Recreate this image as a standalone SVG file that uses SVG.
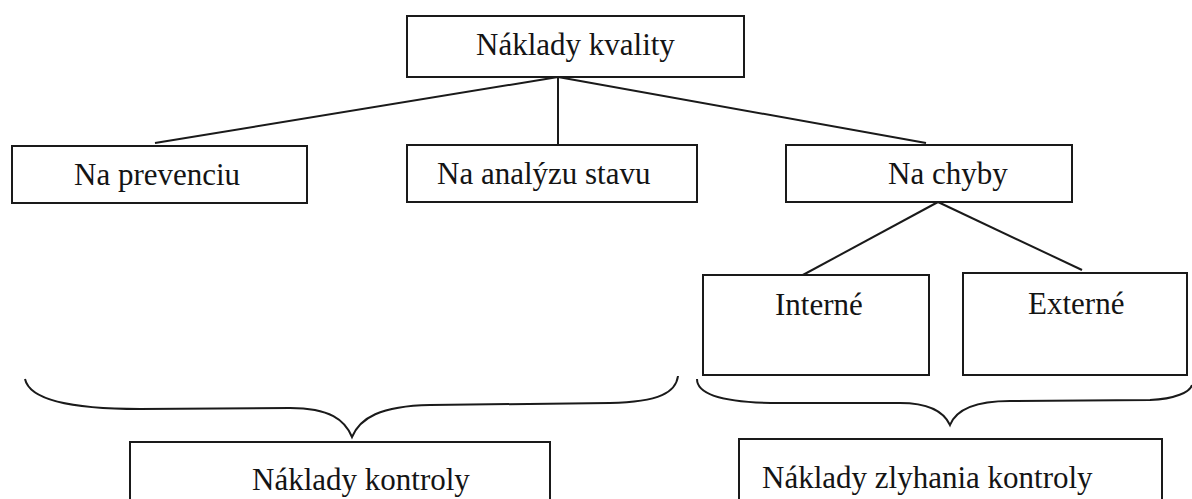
<svg xmlns="http://www.w3.org/2000/svg" width="1192" height="499" viewBox="0 0 1192 499">
<style>
.box{fill:#fff;stroke:#1a1a1a;stroke-width:2}
.t{font-family:"Liberation Serif","Times New Roman",serif;font-size:31px;fill:#141414}
.ln{stroke:#1a1a1a;stroke-width:2;fill:none}
</style>
<rect width="1192" height="499" fill="#fff"/>
<g id="connectors">
<line class="ln" x1="558" y1="77" x2="155" y2="143"/>
<line class="ln" x1="558" y1="77" x2="558" y2="145"/>
<line class="ln" x1="558" y1="77" x2="926" y2="143"/>
<line class="ln" x1="938" y1="202" x2="801" y2="276"/>
<line class="ln" x1="938" y1="202" x2="1082" y2="270"/>
<path class="ln" d="M25,379 C30,402 80,409 140,409 L290,408 C330,408 345,420 352,437 C360,418 380,406 430,405 L610,403 C660,402 676,392 678,376"/>
<path class="ln" d="M697,379 C697,396 730,403 780,403 L900,403 C930,403 944,412 950,425 C956,410 975,401 1010,401 L1150,400 C1175,399 1190,392 1192,385"/>
</g>
<g id="n-kvality"><rect class="box" x="407" y="16" width="337" height="61"/><text class="t" x="476" y="55">Náklady kvality</text></g>
<g id="n-prevenciu"><rect class="box" x="12" y="146" width="295" height="57"/><text class="t" x="74" y="185">Na prevenciu</text></g>
<g id="n-analyzu"><rect class="box" x="407" y="145" width="290" height="57"/><text class="t" x="437" y="184">Na analýzu stavu</text></g>
<g id="n-chyby"><rect class="box" x="786" y="145" width="286" height="57"/><text class="t" x="888" y="184">Na chyby</text></g>
<g id="n-interne"><rect class="box" x="703" y="275" width="226" height="100"/><text class="t" x="775" y="315">Interné</text></g>
<g id="n-externe"><rect class="box" x="963" y="273" width="224" height="102"/><text class="t" x="1028" y="314">Externé</text></g>
<g id="n-kontroly"><rect class="box" x="130" y="442" width="420" height="70"/><text class="t" x="252" y="490">Náklady kontroly</text></g>
<g id="n-zlyhania"><rect class="box" x="739" y="439" width="423" height="73"/><text class="t" x="762" y="488">Náklady zlyhania kontroly</text></g>
</svg>
